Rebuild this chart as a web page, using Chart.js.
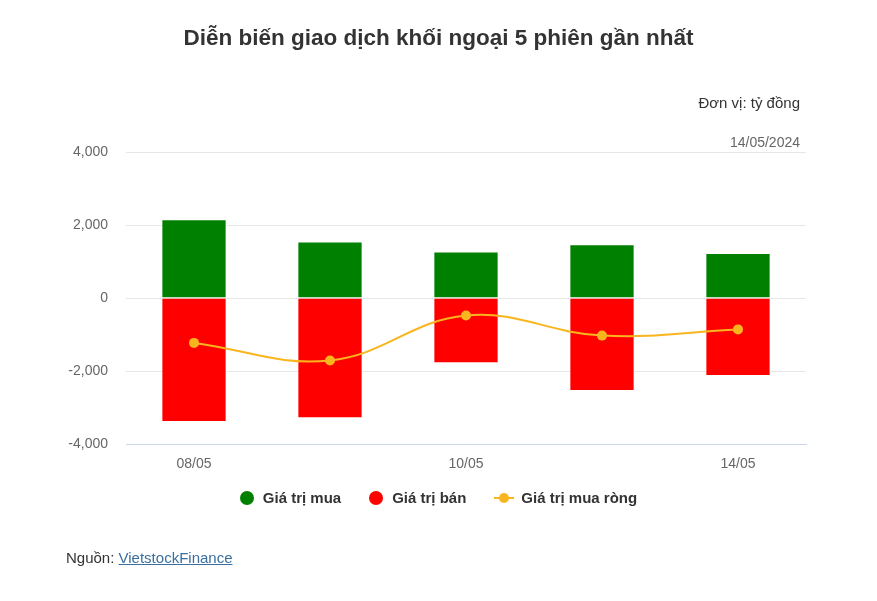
<!DOCTYPE html>
<html>
<head>
<meta charset="utf-8">
<script src="https://cdn.jsdelivr.net/npm/chart.js@4.4.1/dist/chart.umd.min.js"></script>
<style>
  html, body { margin: 0; padding: 0; background: #fff; }
  body { width: 877px; height: 601px; position: relative; overflow: hidden; font-family: "Liberation Sans", Arial, sans-serif; }
  #wrap { position: absolute; left: 0; top: 0; width: 877px; height: 601px; }
  .txt { position: absolute; white-space: nowrap; }
  #title { left: 0; width: 877px; text-align: center; top: 25px; font-size: 22.5px; font-weight: bold; color: #333; }
  #unit { right: 77px; top: 94px; font-size: 15px; color: #333; }
  #date { right: 77px; top: 134px; font-size: 14px; color: #666; }
  #legend { left: 0; width: 877px; top: 489px; display: flex; justify-content: center; font-size: 15px; font-weight: bold; color: #333; }
  .li { display: flex; align-items: center; margin: 0 14px; }
  .dot { width: 14px; height: 14px; border-radius: 50%; margin-right: 9px; }
  .lsym { position: relative; width: 20px; height: 14px; margin-right: 7px; }
  .lsym .ln { position: absolute; left: 0; top: 6px; width: 20px; height: 2px; background: #f9b51d; }
  .lsym .pt { position: absolute; left: 5px; top: 2px; width: 10px; height: 10px; border-radius: 50%; background: #f9b51d; }
  #src { left: 66px; top: 549px; font-size: 15px; color: #333; }
  #src a { color: #3a6fa0; text-decoration: underline; }
</style>
</head>
<body>
<div id="wrap"><canvas id="c" width="877" height="601"></canvas></div>
<div class="txt" id="title">Diễn biến giao dịch khối ngoại 5 phiên gần nhất</div>
<div class="txt" id="unit">Đơn vị: tỷ đồng</div>
<div class="txt" id="date">14/05/2024</div>
<div class="txt" id="legend">
  <div class="li"><span class="dot" style="background:#008000"></span>Giá trị mua</div>
  <div class="li"><span class="dot" style="background:#ff0000"></span>Giá trị bán</div>
  <div class="li"><span class="lsym"><span class="ln"></span><span class="pt"></span></span>Giá trị mua ròng</div>
</div>
<div class="txt" id="src">Nguồn: <a href="#">VietstockFinance</a></div>
<script>
const categories = ["08/05", "09/05", "10/05", "13/05", "14/05"];
const buyValues = [2160, 1545, 1275, 1475, 1235];
const sellValues = [-3400, -3295, -1785, -2545, -2135];
const netValues = [-1230, -1710, -480, -1030, -860];
const yTicks = [-4000, -2000, 0, 2000, 4000];
const seriesNames = ["Giá trị mua", "Giá trị bán", "Giá trị mua ròng"];

new Chart(document.getElementById('c'), {
  data: {
    labels: categories,
    datasets: [
      { type: 'line', label: seriesNames[2], data: netValues, stack: 'net', order: 0,
        borderColor: '#f9b51d', backgroundColor: '#f9b51d', borderWidth: 2,
        pointRadius: 5, pointHoverRadius: 5, pointBorderWidth: 0, tension: 0.4, fill: false },
      { type: 'bar', label: seriesNames[0], data: buyValues, stack: 'bars', order: 1,
        backgroundColor: '#008000', borderColor: '#ffffff', borderWidth: 1,
        barPercentage: 0.48, categoryPercentage: 1 },
      { type: 'bar', label: seriesNames[1], data: sellValues, stack: 'bars', order: 1,
        backgroundColor: '#ff0000', borderColor: '#ffffff', borderWidth: 1,
        barPercentage: 0.48, categoryPercentage: 1 }
    ]
  },
  options: {
    responsive: false,
    animation: false,
    layout: { padding: { left: 0, right: 71, top: 152, bottom: 127 } },
    plugins: { legend: { display: false }, tooltip: { enabled: false }, title: { display: false } },
    scales: {
      x: {
        stacked: true,
        afterFit: s => { s.height = 30; },
        grid: { display: false, drawTicks: false },
        border: { display: true, color: '#ccd6eb', width: 1 },
        ticks: {
          padding: 12, color: '#666', font: { family: 'Liberation Sans', size: 14 },
          autoSkip: false, maxRotation: 0,
          callback: function(v, i) { return i % 2 === 0 ? categories[i] : ''; }
        }
      },
      y: {
        stacked: true,
        min: -4000, max: 4000,
        afterFit: s => { s.width = 126; },
        afterBuildTicks: s => { s.ticks = yTicks.map(v => ({ value: v })); },
        grid: { color: '#e6e6e6', drawTicks: false },
        border: { display: false },
        ticks: {
          padding: 18, color: '#666', font: { family: 'Liberation Sans', size: 14 },
          callback: v => v.toLocaleString('en-US')
        }
      }
    }
  }
});
</script>
</body>
</html>
